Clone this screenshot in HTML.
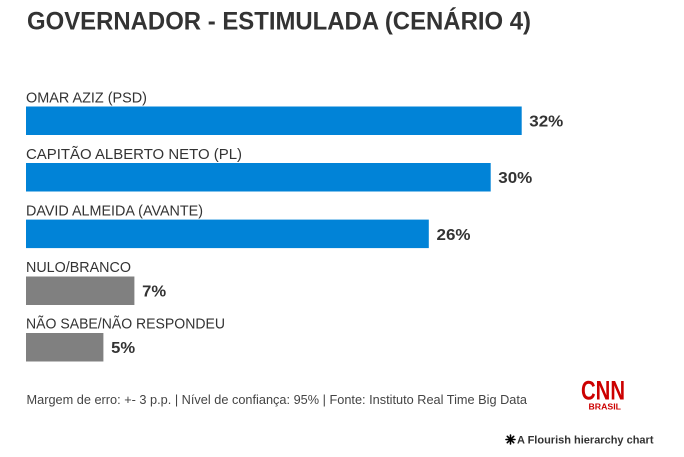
<!DOCTYPE html>
<html>
<head>
<meta charset="utf-8">
<style>
html,body{margin:0;padding:0;background:#fff;}
svg{display:block;}
text{font-family:"Liberation Sans",Arial,sans-serif;}
</style>
</head>
<body>
<svg width="684" height="457" viewBox="0 0 684 457" xmlns="http://www.w3.org/2000/svg">
<rect width="684" height="457" fill="#fff"/>
<text x="27" y="29.5" font-size="25" font-weight="bold" fill="#333333" textLength="504" lengthAdjust="spacingAndGlyphs">GOVERNADOR - ESTIMULADA (CENÁRIO 4)</text>

<g font-size="14.5" fill="#333333">
<text x="26" y="102.3" textLength="121" lengthAdjust="spacingAndGlyphs">OMAR AZIZ (PSD)</text>
<text x="26" y="158.8" textLength="216" lengthAdjust="spacingAndGlyphs">CAPITÃO ALBERTO NETO (PL)</text>
<text x="26" y="215.4" textLength="177" lengthAdjust="spacingAndGlyphs">DAVID ALMEIDA (AVANTE)</text>
<text x="26" y="272" textLength="105" lengthAdjust="spacingAndGlyphs">NULO/BRANCO</text>
<text x="26" y="328.6" textLength="199" lengthAdjust="spacingAndGlyphs">NÃO SABE/NÃO RESPONDEU</text>
</g>

<rect x="26" y="106.5" width="495.7" height="28.5" fill="#0183d7"/>
<rect x="26" y="163" width="464.7" height="28.5" fill="#0183d7"/>
<rect x="26" y="219.6" width="402.8" height="28.5" fill="#0183d7"/>
<rect x="26" y="276.5" width="108.4" height="28.5" fill="#808080"/>
<rect x="26" y="333" width="77.4" height="28.5" fill="#808080"/>

<g font-size="16" font-weight="bold" fill="#333333">
<text x="529.3" y="126.7" textLength="34" lengthAdjust="spacingAndGlyphs">32%</text>
<text x="498.3" y="183.2" textLength="34" lengthAdjust="spacingAndGlyphs">30%</text>
<text x="436.5" y="239.8" textLength="34" lengthAdjust="spacingAndGlyphs">26%</text>
<text x="142.1" y="296.6" textLength="24" lengthAdjust="spacingAndGlyphs">7%</text>
<text x="111.1" y="353.2" textLength="24" lengthAdjust="spacingAndGlyphs">5%</text>
</g>

<text x="26.5" y="404" font-size="12.5" fill="#444444" textLength="500.5" lengthAdjust="spacingAndGlyphs">Margem de erro: +- 3 p.p. | Nível de confiança: 95% | Fonte: Instituto Real Time Big Data</text>

<text x="581" y="399.5" font-size="27" font-weight="bold" fill="#cc0000" textLength="44" lengthAdjust="spacingAndGlyphs">CNN</text>
<text x="588.5" y="409.3" font-size="8" font-weight="bold" fill="#cc0000" textLength="32.5" lengthAdjust="spacingAndGlyphs">BRASIL</text>

<g transform="translate(510.5,439.5)" stroke="#000" stroke-width="1.6" stroke-linecap="round">
<line x1="-4.5" y1="0" x2="4.5" y2="0"/>
<line x1="0" y1="-4.5" x2="0" y2="4.5"/>
<line x1="-3.2" y1="-3.2" x2="3.2" y2="3.2"/>
<line x1="-3.2" y1="3.2" x2="3.2" y2="-3.2"/>
</g>
<text x="517" y="443.5" font-size="11" font-weight="bold" fill="#333333" textLength="136.5" lengthAdjust="spacingAndGlyphs">A Flourish hierarchy chart</text>
</svg>
</body>
</html>
